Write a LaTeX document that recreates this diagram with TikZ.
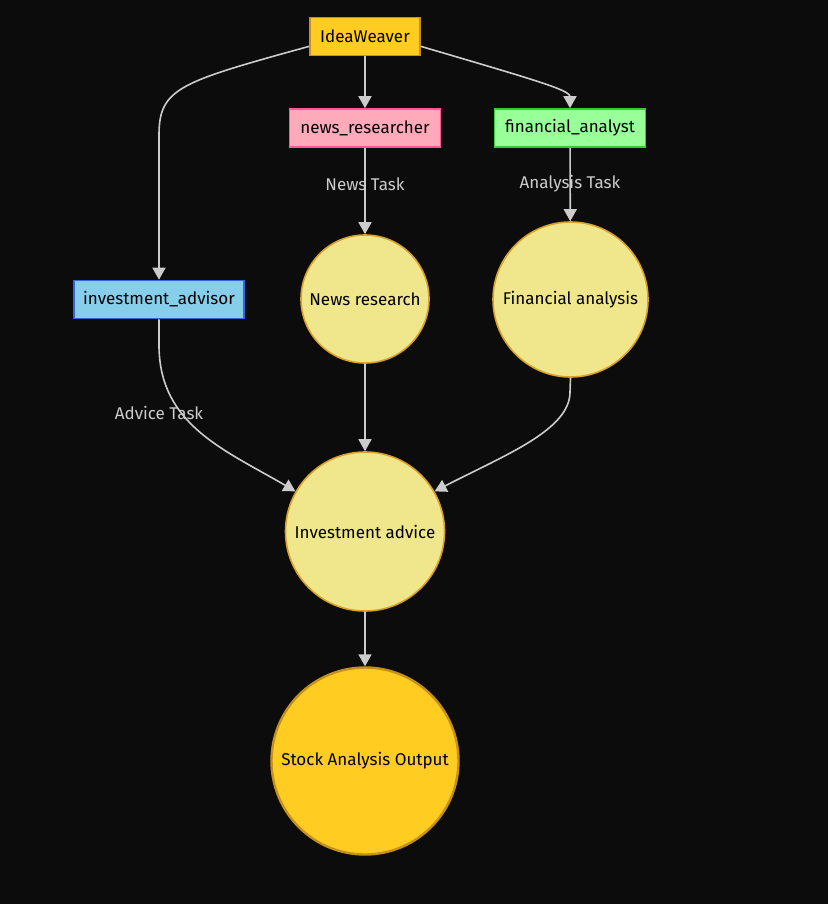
\documentclass[tikz,border=0pt]{standalone}
\usepackage{fontspec}
\setmainfont{Fira Sans}
\usepackage{tikz}
\usetikzlibrary{arrows.meta}

\definecolor{bgcol}{HTML}{0C0C0C}
\definecolor{edgecol}{HTML}{CCCCCC}
\definecolor{goldfill}{HTML}{FFCC22}
\definecolor{goldline}{HTML}{C4901E}
\definecolor{khakifill}{HTML}{F0E68C}
\definecolor{khakiline}{HTML}{D9A02A}
\definecolor{pinkfill}{HTML}{FFAABB}
\definecolor{pinkline}{HTML}{FF5599}
\definecolor{greenfill}{HTML}{99FF99}
\definecolor{greenline}{HTML}{33CC33}
\definecolor{bluefill}{HTML}{87CEEB}
\definecolor{blueline}{HTML}{3366DD}

\begin{document}
\begin{tikzpicture}[x=1pt, y=-1pt, font=\fontsize{17}{20}\selectfont,
    agent/.style={draw, line width=1.6pt, rectangle, inner xsep=0pt, minimum height=38pt},
    task/.style={draw=khakiline, fill=khakifill, line width=1.6pt, circle, inner sep=0pt},
    edge/.style={draw=edgecol, line width=1.6pt, -{Triangle[width=13pt,length=12pt]}},
    tasklabel/.style={text=edgecol}]
  \fill [bgcol] (0,0) rectangle (828,904);
  \useasboundingbox (0,0) rectangle (828,904);

  \node [agent, draw=goldline, fill=goldfill, minimum width=110pt] (idea) at (365,36.5) {IdeaWeaver};
  \node [agent, draw=pinkline, fill=pinkfill, minimum width=151pt] (news) at (365,128) {news\_researcher};
  \node [agent, draw=greenline, fill=greenfill, minimum width=151pt] (fin) at (570,128) {financial\_analyst};
  \node [agent, draw=blueline, fill=bluefill, minimum width=170pt] (advisor) at (159,299.5) {investment\_advisor};

  \node [task, minimum size=128pt] (newsres) at (365,299) {News research};
  \node [task, minimum size=155pt] (finana) at (570.5,299.5) {Financial analysis};
  \node [task, minimum size=159pt] (advice) at (365,531.5) {Investment advice};
  \node [task, draw=goldline, fill=goldfill, line width=2.4pt, minimum size=187pt] (output) at (365,761) {Stock Analysis Output};

  \draw [edge] (idea.190) .. controls (180,82) and (159,88) .. (159,135) -- (advisor.north);
  \draw [edge] (idea) -- (news);
  \draw [edge] (idea.-10) .. controls (535,80) and (570,90) .. (fin.north);

  \draw [edge] (news) -- (newsres);
  \node [tasklabel] (newslbl) at (365,184) {News Task};
  \draw [edge] (fin) -- (finana);
  \node [tasklabel] (finlbl) at (570,184) {Analysis Task};

  \draw [edge] (advisor.south) -- (159,345) .. controls (159,425) and (225,450) .. (advice.150);
  \node [tasklabel] (advlbl) at (159,413) {Advice Task};
  \draw [edge] (newsres) -- (advice);
  \draw [edge] (finana.south) -- (570,392) .. controls (570,430) and (505,455) .. (advice.30);
  \draw [edge] (advice) -- (output);
\end{tikzpicture}
\end{document}
